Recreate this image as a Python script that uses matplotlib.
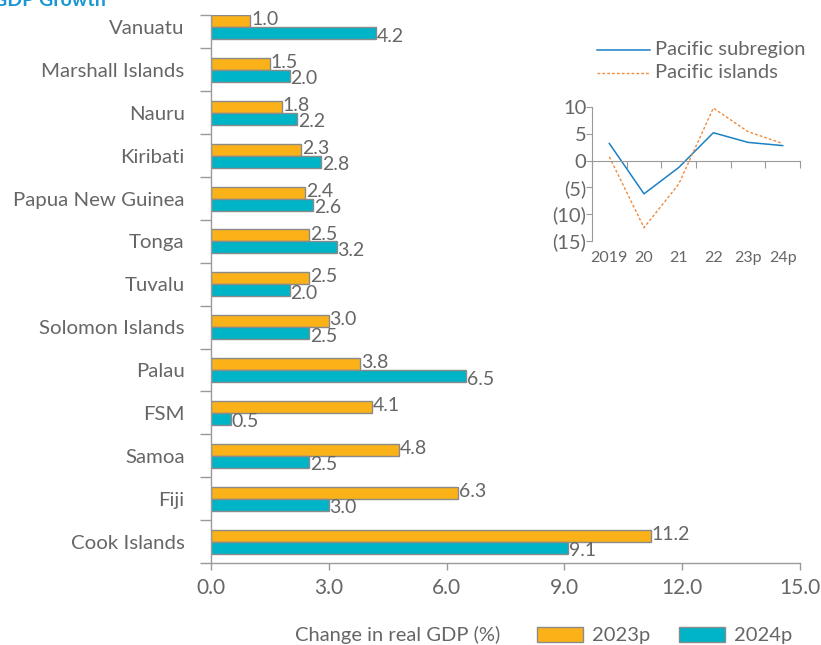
import matplotlib
matplotlib.use("Agg")
import matplotlib.pyplot as plt
import numpy as np
from matplotlib.patches import Rectangle
from matplotlib.lines import Line2D

plt.rcParams['font.family'] = ['Lato', 'DejaVu Sans']

countries = ["Cook Islands", "Fiji", "Samoa", "FSM", "Palau", "Solomon Islands",
             "Tuvalu", "Tonga", "Papua New Guinea", "Kiribati", "Nauru",
             "Marshall Islands", "Vanuatu"]
gdp_2023p = [11.2, 6.3, 4.8, 4.1, 3.8, 3.0, 2.5, 2.5, 2.4, 2.3, 1.8, 1.5, 1.0]
gdp_2024p = [9.1, 3.0, 2.5, 0.5, 6.5, 2.5, 2.0, 3.2, 2.6, 2.8, 2.2, 2.0, 4.2]
x_ticks = [0.0, 3.0, 6.0, 9.0, 12.0, 15.0]

inset_years = ["2019", "20", "21", "22", "23p", "24p"]
pacific_subregion = [3.2, -6.2, -1.3, 5.2, 3.4, 2.8]
pacific_islands = [0.7, -12.5, -4.4, 9.8, 5.4, 3.2]
inset_yticks = [10, 5, 0, -5, -10, -15]
inset_ylabels = ["10", "5", "0", "(5)", "(10)", "(15)"]

ORANGE = "#FBB219"
TEAL = "#00B4C8"
EDGE = "#8a8a8a"
TXT = "#666666"
AXC = "#9a9a9a"

W, H = 821, 645
fig = plt.figure(figsize=(W / 100, H / 100), dpi=100)

def fx(px):
    return px / W

def fy(py):
    return 1 - py / H

# main axes
ax = fig.add_axes([fx(211), fy(563), fx(800) - fx(211), fy(15) - fy(563)])
y = np.arange(len(countries))
bh = 0.28
ax.barh(y + bh / 2, gdp_2023p, height=bh, color=ORANGE, edgecolor=EDGE, linewidth=1)
ax.barh(y - bh / 2, gdp_2024p, height=bh, color=TEAL, edgecolor=EDGE, linewidth=1)
for i in range(len(countries)):
    ax.text(gdp_2023p[i] + 0.02, y[i] + bh / 2 + 0.03, f"{gdp_2023p[i]:.1f}", va="center",
            ha="left", fontsize=14, color=TXT)
    ax.text(gdp_2024p[i] + 0.02, y[i] - bh / 2 - 0.07, f"{gdp_2024p[i]:.1f}", va="center",
            ha="left", fontsize=14, color=TXT)
ax.set_xlim(0, 15)
ax.set_ylim(-0.5, 12.28)
ax.set_xticks(x_ticks)
ax.set_xticklabels([f"{v:.1f}" for v in x_ticks], fontsize=15, color=TXT)
ax.set_yticks(y)
ax.set_yticklabels(countries, fontsize=14.7, color=TXT)
ax.tick_params(axis="y", length=0, pad=19)
ax.set_yticks(list(np.arange(-0.5, 12.0, 1.0)) + [12.28], minor=True)
ax.tick_params(axis="y", which="minor", length=8, color=AXC, width=1)
ax.tick_params(axis="x", length=5, color=AXC, width=1, pad=6)
for s in ["top", "right"]:
    ax.spines[s].set_visible(False)
for s in ["left", "bottom"]:
    ax.spines[s].set_color(AXC)
    ax.spines[s].set_linewidth(1)

# inset
ix = fig.add_axes([fx(592), fy(241), fx(800) - fx(592), fy(107) - fy(241)])
xi = np.arange(len(inset_years))
ix.plot(xi, pacific_subregion, color="#1B80C4", linewidth=1.1)
ix.plot(xi, pacific_islands, color="#F08A3C", linewidth=1.0, linestyle=(0, (2, 1.5)))
ix.set_xlim(-0.5, 5.5)
ix.set_ylim(-15, 10)
ix.set_yticks(inset_yticks)
ix.set_yticklabels(inset_ylabels, fontsize=14.5, color=TXT)
ix.tick_params(axis="y", length=4, color=AXC, pad=0)
ix.spines["bottom"].set_position(("data", 0))
ix.set_xticks(np.arange(-0.5, 6.0, 1.0))
ix.set_xticklabels([])
ix.tick_params(axis="x", length=5, color=AXC, direction="out")
for s in ["top", "right"]:
    ix.spines[s].set_visible(False)
for s in ["left", "bottom"]:
    ix.spines[s].set_color(AXC)
ix.patch.set_alpha(0)
for i, lab in enumerate(inset_years):
    ix.text(i, -0.127, lab, transform=ix.get_xaxis_transform(), ha="center", va="center",
            fontsize=11.5, color=TXT)

# inset legend
fig.add_artist(Line2D([fx(597), fx(650)], [fy(50), fy(50)], color="#1B80C4", linewidth=1.1))
fig.add_artist(Line2D([fx(597), fx(650)], [fy(73), fy(73)], color="#F08A3C", linewidth=1.0,
                      linestyle=(0, (2, 1.5))))
fig.text(fx(655), fy(50), "Pacific subregion", fontsize=14.5, color=TXT, va="center", ha="left")
fig.text(fx(655), fy(72), "Pacific islands", fontsize=14.5, color=TXT, va="center", ha="left")

# bottom legend
fig.text(fx(295), fy(635), "Change in real GDP (%)", fontsize=14.5, color=TXT, va="center", ha="left")
fig.add_artist(Rectangle((fx(537), fy(642)), fx(583) - fx(537), fy(627) - fy(642),
                         transform=fig.transFigure, facecolor=ORANGE, edgecolor=EDGE, linewidth=1))
fig.text(fx(592), fy(635), "2023p", fontsize=14.5, color=TXT, va="center", ha="left")
fig.add_artist(Rectangle((fx(679), fy(642)), fx(725) - fx(679), fy(627) - fy(642),
                         transform=fig.transFigure, facecolor=TEAL, edgecolor=EDGE, linewidth=1))
fig.text(fx(734), fy(635), "2024p", fontsize=14.5, color=TXT, va="center", ha="left")

# title (cut off at top)
fig.text(-0.009, fy(6), "GDP Growth", fontsize=14, fontweight="bold", color="#1A96D4",
         va="baseline", ha="left")

fig.savefig("out.png", dpi=100)
